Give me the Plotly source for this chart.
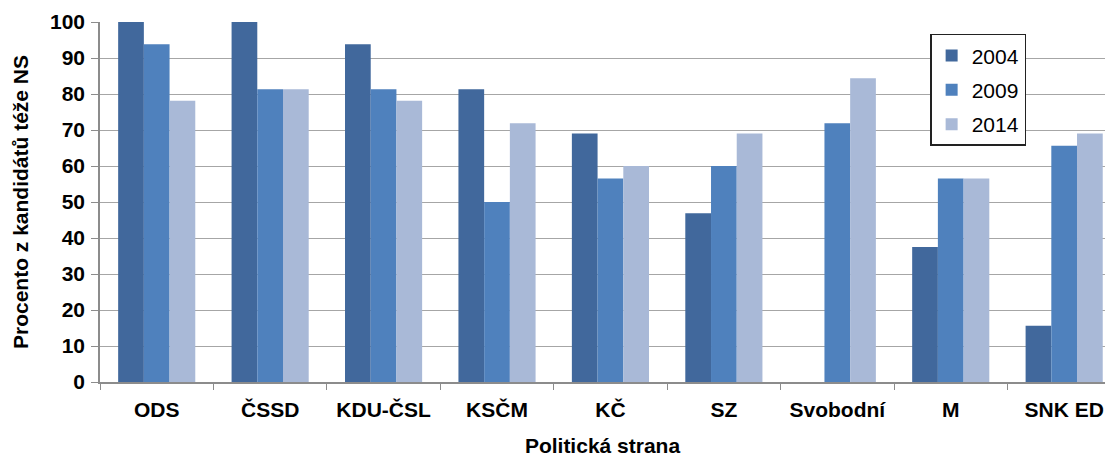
import plotly.graph_objects as go

# party names and shares of candidates (%)
strany = ["ODS", "ČSSD", "KDU-ČSL", "KSČM", "KČ", "SZ", "Svobodní", "M", "SNK ED"]
r2004 = [100, 100, 93.8, 81.3, 69.0, 46.9, None, 37.5, 15.6]
r2009 = [93.8, 81.3, 81.3, 50.0, 56.5, 60.0, 71.9, 56.5, 65.6]
r2014 = [78.1, 81.3, 78.1, 71.9, 60.0, 69.0, 84.4, 56.5, 69.0]

roky = ["2004", "2009", "2014"]
barvy = ["#41689C", "#4F81BD", "#A9B9D7"]

fig = go.Figure()
for rok, hodnoty, barva in zip(roky, [r2004, r2009, r2014], barvy):
    fig.add_trace(go.Bar(x=strany, y=hodnoty, name=rok, marker_color=barva,
                         marker_line_width=0, legendgroup=rok))

pismo = "Liberation Sans, Arial"
fig.update_layout(
    width=1105, height=457,
    margin=dict(l=100, r=0, t=22, b=75, autoexpand=False),
    plot_bgcolor="white", paper_bgcolor="white",
    font=dict(family=pismo, size=20, color="black"),
    barmode="group", bargap=0.32, bargroupgap=0,
    legend=dict(x=0.826, y=0.967, xanchor="left", yanchor="top",
                bordercolor="#222222", borderwidth=1.5, bgcolor="white",
                font=dict(size=21), tracegroupgap=4, traceorder="grouped"),
)
fig.update_xaxes(
    range=[-0.5, 8.36], showgrid=False, automargin=False,
    showline=True, linecolor="#8C8C8C", linewidth=1.5,
    ticks="outside", tickson="boundaries", ticklen=6, tickcolor="#8C8C8C",
    tickfont=dict(size=21, weight="bold"), ticklabelstandoff=8,
    title=dict(text="Politická strana", font=dict(size=21, weight="bold"), standoff=18),
)
fig.update_yaxes(
    range=[0, 100], dtick=10, automargin=False,
    showgrid=True, gridcolor="#A6A6A6", gridwidth=1.2,
    showline=True, linecolor="#8C8C8C", linewidth=1.5,
    ticks="outside", ticklen=7, tickcolor="#8C8C8C",
    tickfont=dict(size=21, weight="bold"), ticklabelstandoff=2,
    title=dict(text="Procento z kandidátů téže NS", font=dict(size=21, weight="bold"), standoff=16),
    zeroline=False,
)

fig.write_html("out.html", config={"displayModeBar": False},
               post_script="document.body.style.margin='0';")
